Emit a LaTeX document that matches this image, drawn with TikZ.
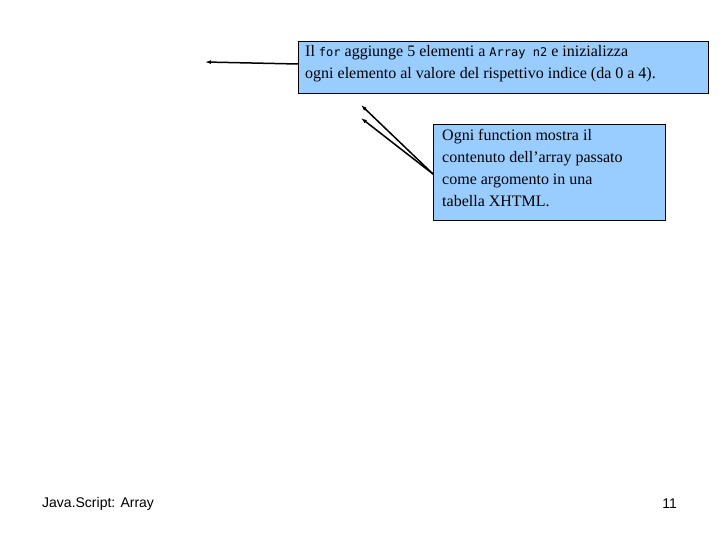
\documentclass[tikz,border=0pt]{standalone}
\usepackage{fontspec}
\usetikzlibrary{arrows.meta}
\setmainfont{Liberation Serif}
\newfontfamily\footfont{Liberation Sans}
\setmonofont{DejaVu Sans Mono}
\begin{document}
\begin{tikzpicture}[x=1pt,y=-1pt,
  note/.style={draw=black,fill={rgb,255:red,153;green,204;blue,255},inner sep=0pt,anchor=north west},
  arr/.style={-{Latex[length=6pt,width=4pt]},line width=1.5pt}]
\useasboundingbox (0,0) rectangle (720,540);
\node[note,minimum width=410pt,minimum height=52pt] (b1) at (298,41) {};
\node[anchor=north west,align=left,font=\fontsize{16}{22}\selectfont,inner sep=0pt] (t1) at (305,45)
 {Il {\ttfamily\fontsize{12}{22}\selectfont for} aggiunge 5 elementi a {\ttfamily\fontsize{12}{22}\selectfont Array n2} e inizializza\\ogni elemento al valore del rispettivo indice (da 0 a 4).};
\node[note,minimum width=232pt,minimum height=96pt] (b2) at (433,124) {};
\node[anchor=north west,align=left,font=\fontsize{16}{22}\selectfont,inner sep=0pt] (t2) at (442,129)
 {Ogni function mostra il\\contenuto dell’array passato\\come argomento in una\\tabella XHTML.};
\coordinate (p1) at (298,64);
\coordinate (e1) at (205,62);
\coordinate (p2) at (433,174);
\coordinate (e2) at (361,105);
\coordinate (e3) at (361,118);
\draw[arr] (p1) -- (e1);
\draw[arr] (p2) -- (e2);
\draw[arr] (p2) -- (e3);
\node[font=\footfont\fontsize{14}{16}\selectfont,anchor=west,inner sep=0pt] (f1) at (42,504) {Java.Script: Array};
\node[font=\footfont\fontsize{14}{16}\selectfont,anchor=east,inner sep=0pt] (f2) at (677,504) {11};
\end{tikzpicture}
\end{document}
